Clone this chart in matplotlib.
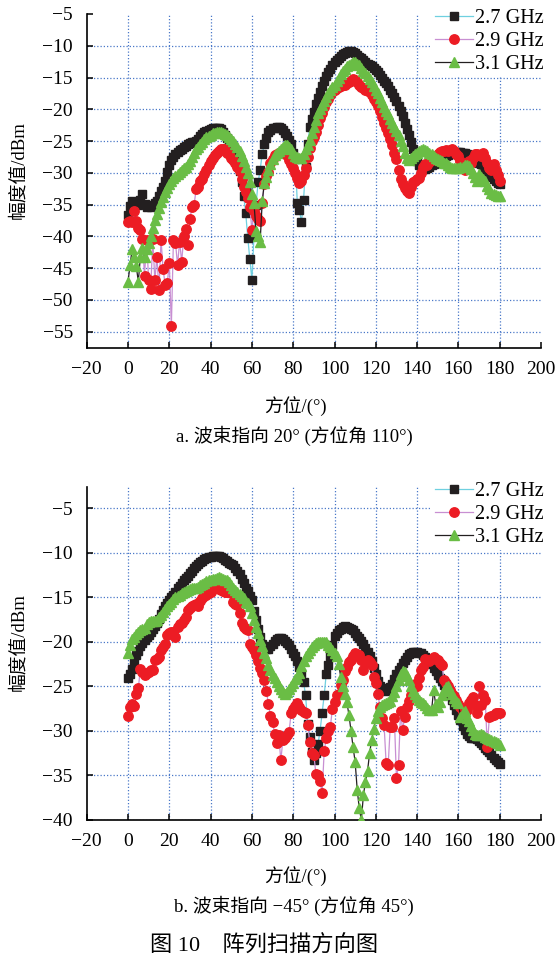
import numpy as np
import matplotlib
matplotlib.use('Agg')
import matplotlib.pyplot as plt

plt.rcParams['font.family'] = ['Liberation Serif', 'Noto Sans CJK SC']
plt.rcParams['axes.unicode_minus'] = True

# ---------------- data ----------------
azimuth = list(range(0, 181))
series_labels = ['2.7 GHz', '2.9 GHz', '3.1 GHz']
x_ticks = list(range(-20, 201, 20))
top_yticks = list(range(-5, -56, -5))
bot_yticks = list(range(-5, -41, -5))

top_27 = [
    -36.6, -35.2, -34.5, -34.9, -34.7, -35.0, -34.2, -33.4, -34.9, -35.3,
    -35.2, -35.4, -35.0, -34.8, -34.4, -33.6, -32.8, -32.2, -31.2, -29.8,
    -28.7, -28.0, -27.5, -27.0, -26.7, -26.4, -26.2, -26.0, -25.8, -25.5,
    -25.3, -25.2, -25.1, -25.0, -24.6, -24.2, -23.9, -23.6, -23.4, -23.2,
    -23.1, -23.0, -22.9, -22.9, -22.9, -23.1, -23.5, -24.0, -24.5, -25.0,
    -25.8, -26.6, -27.6, -28.6, -29.7, -31.5, -33.6, -36.3, -40.2, -43.6,
    -46.8, -40.0, -35.0, -31.5, -29.5, -27.0, -25.5, -24.5, -23.6, -23.2,
    -23.0, -22.9, -22.8, -22.8, -23.0, -23.3, -23.7, -24.2, -24.8, -25.5,
    -26.8, -27.8, -34.8, -35.8, -37.8, -34.3, -29.0, -25.5, -22.8, -21.5,
    -20.4, -19.2, -18.2, -17.2, -16.4, -15.6, -14.8, -14.2, -13.6, -13.0,
    -12.6, -12.2, -11.9, -11.6, -11.3, -11.1, -11.0, -10.9, -10.9, -11.0,
    -11.2, -11.5, -11.8, -12.0, -12.2, -12.5, -12.8, -13.0, -13.2, -13.5,
    -13.8, -14.2, -14.6, -15.0, -15.5, -15.9, -16.4, -16.9, -17.4, -18.0,
    -18.7, -19.4, -20.2, -21.1, -22.1, -23.1, -24.1, -25.1, -26.3, -27.4,
    -28.2, -28.8, -29.2, -29.4, -29.4, -29.2, -29.0, -28.8, -28.6, -28.4,
    -28.3, -28.1, -27.9, -27.6, -27.4, -27.2, -27.0, -26.9, -26.8, -26.7,
    -26.7, -26.7, -26.8, -26.9, -27.1, -27.3, -27.5, -27.8, -28.0, -28.2,
    -28.4, -28.6, -29.0, -29.4, -29.8, -30.2, -30.6, -31.0, -31.3, -31.6,
    -31.8]

top_29 = [
    -37.8, -37.6, -37.8, -36.0, -37.6, -38.6, -39.0, -40.4, -46.3, -40.6,
    -46.8, -48.3, -40.4, -46.9, -43.2, -48.4, -40.5, -45.2, -47.6, -47.4,
    -44.2, -54.1, -40.5, -41.0, -44.5, -40.8, -44.0, -40.0, -38.8, -41.4,
    -37.2, -35.4, -35.0, -32.6, -32.2, -31.3, -31.0, -30.2, -29.5, -28.8,
    -28.2, -27.7, -27.2, -26.8, -26.6, -26.3, -26.2, -26.3, -26.8, -27.1,
    -27.6, -28.0, -28.5, -29.0, -29.7, -31.0, -32.2, -33.0, -34.0, -35.4,
    -39.0, -36.0, -36.8, -37.2, -37.6, -34.8, -31.8, -30.5, -29.8, -28.4,
    -27.8, -27.2, -27.0, -26.8, -26.8, -26.8, -27.0, -27.2, -28.0, -28.6,
    -29.2, -30.0, -30.8, -31.6, -31.2, -30.4, -29.2, -27.5, -26.1, -25.0,
    -24.3, -23.5, -22.4, -21.4, -20.5, -19.6, -18.9, -18.3, -17.7, -17.3,
    -16.9, -16.7, -16.5, -16.3, -16.2, -16.1, -15.9, -15.7, -15.5, -15.3,
    -15.4, -15.7, -16.1, -16.5, -16.7, -16.9, -17.1, -17.3, -17.7, -18.3,
    -18.8, -19.4, -20.3, -21.2, -22.2, -23.0, -23.8, -24.6, -25.6, -26.8,
    -27.8, -29.5, -31.0, -31.8, -32.4, -32.8, -33.2, -32.2, -31.4, -31.2,
    -31.0, -30.8, -30.0, -29.0, -28.6, -28.7, -28.3, -28.0, -27.8, -27.5,
    -27.0, -26.7, -26.6, -26.5, -26.4, -26.5, -26.4, -26.3, -26.6, -27.0,
    -27.4, -28.2, -29.0, -29.5, -28.6, -28.2, -28.4, -27.6, -27.1, -27.0,
    -27.2, -27.4, -26.8, -27.6, -28.4, -29.2, -29.6, -28.6, -29.5, -30.4,
    -31.3]

top_31 = [
    -47.1, -44.5, -42.0, -43.2, -44.7, -47.1, -43.2, -41.8, -43.2, -42.0,
    -41.0, -40.0, -38.7, -37.4, -36.5, -35.6, -34.6, -33.8, -33.0, -32.3,
    -31.7, -31.2, -30.8, -30.5, -30.2, -29.9, -29.6, -29.3, -29.0, -28.6,
    -28.1, -27.5, -26.9, -26.3, -25.9, -25.5, -25.1, -24.7, -24.4, -24.2,
    -24.0, -23.8, -23.7, -23.6, -23.5, -23.6, -23.7, -23.9, -24.1, -24.3,
    -24.6, -25.0, -25.5, -26.0, -26.6, -27.4, -28.2, -29.0, -30.0, -31.5,
    -33.4, -34.7, -39.2, -40.0, -40.8, -34.5, -31.6, -30.6, -29.6, -28.6,
    -27.8, -27.2, -26.8, -26.5, -26.2, -25.9, -25.6, -25.6, -25.9, -26.3,
    -26.8, -27.3, -27.5, -27.7, -27.6, -27.0, -26.3, -25.6, -24.8, -23.8,
    -22.8, -21.6, -20.5, -19.9, -19.3, -18.7, -18.1, -17.5, -17.0, -16.5,
    -16.1, -15.6, -15.0, -14.5, -14.0, -13.6, -13.2, -13.0, -12.8, -12.6,
    -12.6, -12.8, -13.1, -13.5, -13.9, -14.3, -14.7, -15.2, -15.7, -16.3,
    -16.9, -17.5, -18.2, -18.9, -19.6, -20.2, -20.8, -21.5, -22.1, -22.8,
    -23.4, -24.1, -25.0, -25.8, -26.8, -27.6, -27.9, -27.6, -27.3, -27.0,
    -26.8, -26.6, -26.4, -26.3, -26.4, -26.6, -26.8, -27.0, -27.3, -27.6,
    -27.8, -28.0, -28.2, -28.4, -28.5, -28.7, -29.0, -29.2, -29.3, -29.2,
    -29.2, -29.1, -29.0, -28.8, -28.8, -28.9, -29.4, -30.0, -30.6, -31.3,
    -30.2, -30.6, -31.0, -31.3, -32.0, -32.6, -33.1, -33.3, -33.5, -33.6,
    -33.7]

bot_27 = [
    -24.1, -23.6, -23.0, -22.2, -21.5, -21.0, -20.5, -20.1, -19.8, -19.5,
    -19.2, -18.9, -18.6, -18.2, -17.9, -17.4, -16.9, -16.4, -16.0, -15.6,
    -15.3, -15.0, -14.7, -14.4, -14.0, -13.7, -13.4, -13.1, -12.8, -12.6,
    -12.3, -12.0, -11.7, -11.5, -11.2, -11.0, -10.9, -10.7, -10.6, -10.5,
    -10.5, -10.4, -10.4, -10.4, -10.4, -10.5, -10.6, -10.8, -10.9, -11.1,
    -11.2, -11.4, -11.7, -12.0, -12.4, -12.9, -13.4, -13.9, -14.3, -14.8,
    -15.3, -16.5, -17.5, -18.5, -19.5, -20.2, -20.6, -20.8, -20.8, -20.5,
    -20.2, -19.9, -19.7, -19.6, -19.6, -19.7, -19.9, -20.1, -20.4, -20.8,
    -21.2, -21.6, -22.2, -22.8, -23.5, -24.5, -26.0, -29.2, -30.7, -32.4,
    -33.3, -32.5, -31.5, -30.0, -28.0, -26.0, -23.6, -22.6, -21.6, -20.4,
    -19.3, -19.0, -18.7, -18.5, -18.3, -18.2, -18.3, -18.4, -18.5, -18.7,
    -19.0, -19.3, -19.6, -19.9, -20.2, -20.7, -21.1, -21.6, -22.2, -22.9,
    -23.6, -24.4, -24.9, -25.2, -25.4, -25.5, -25.4, -25.1, -24.7, -24.2,
    -23.6, -23.2, -22.8, -22.4, -22.0, -21.7, -21.4, -21.2, -21.1, -21.1,
    -21.1, -21.2, -21.3, -21.5, -21.7, -21.9, -22.2, -22.5, -22.9, -23.3,
    -23.7, -24.0, -24.4, -24.8, -25.2, -25.6, -26.0, -26.5, -27.1, -27.7,
    -28.2, -28.8, -29.4, -29.9, -30.3, -30.6, -30.8, -30.8, -30.8, -30.9,
    -31.1, -31.4, -31.6, -31.9, -32.1, -32.4, -32.7, -33.0, -33.3, -33.5,
    -33.7]

bot_29 = [
    -28.3, -27.3, -27.0, -27.2, -25.8, -25.2, -23.0, -23.4, -23.7, -23.5,
    -23.4, -23.2, -23.2, -22.0, -21.9, -21.7, -20.9, -20.6, -20.2, -19.2,
    -19.0, -18.9, -18.9, -19.4, -18.3, -18.0, -17.9, -17.5, -17.2, -16.4,
    -16.2, -16.0, -15.8, -15.7, -16.0, -15.4, -15.1, -14.9, -14.7, -14.5,
    -14.4, -14.1, -13.8, -13.9, -14.1, -14.2, -14.3, -14.4, -14.4, -14.4,
    -14.5, -15.5, -15.7, -15.9, -16.8, -17.9, -18.3, -18.5, -18.7, -20.2,
    -20.6, -20.9, -21.5, -22.2, -22.9, -23.5, -24.3, -25.5, -27.0, -28.3,
    -29.0, -30.3, -31.4, -30.5, -33.3, -31.0, -30.8, -30.5, -30.1, -28.0,
    -27.5, -27.2, -26.9, -27.3, -27.7, -27.9, -28.0, -29.3, -31.2, -32.5,
    -32.7, -34.8, -35.0, -35.6, -37.0, -32.3, -30.8, -30.0, -29.5, -27.5,
    -26.7, -26.0, -25.8, -24.8, -24.3, -23.3, -22.8, -22.3, -22.0, -21.6,
    -21.3, -21.4, -21.5, -22.0, -23.2, -22.4, -22.0, -22.3, -22.6, -23.9,
    -24.6, -25.8, -27.3, -28.5, -29.3, -33.6, -33.8, -29.5, -29.5, -28.6,
    -35.3, -33.8, -27.8, -29.9, -28.4, -27.3, -26.6, -26.0, -25.3, -24.7,
    -25.0, -24.0, -23.2, -22.8, -21.9, -22.0, -22.2, -21.9, -21.7, -21.9,
    -22.0, -22.4, -22.6, -24.3, -24.6, -24.9, -25.4, -25.8, -26.1, -26.5,
    -27.0, -27.3, -27.8, -27.8, -27.7, -26.9, -26.5, -26.2, -27.1, -28.0,
    -24.9, -27.1, -26.0, -26.5, -31.8, -28.4, -28.3, -28.2, -28.0, -28.0,
    -28.0]

bot_31 = [
    -21.3, -20.4, -19.7, -19.4, -19.1, -18.9, -18.7, -18.6, -18.4, -18.0,
    -17.8, -17.7, -17.7, -17.6, -17.5, -17.2, -17.0, -16.6, -16.3, -16.0,
    -15.7, -15.5, -15.2, -15.0, -14.8, -14.7, -14.5, -14.4, -14.3, -14.2,
    -14.1, -14.0, -14.0, -13.9, -13.8, -13.6, -13.5, -13.4, -13.2, -13.1,
    -13.0, -12.9, -12.9, -12.8, -12.7, -12.8, -12.9, -13.0, -13.1, -13.3,
    -13.6, -13.9, -14.2, -14.4, -14.6, -14.8, -15.1, -15.5, -15.6, -16.0,
    -16.8, -17.5, -18.3, -19.0, -19.8, -20.5, -21.3, -21.8, -22.6, -23.2,
    -23.7, -24.1, -24.5, -24.9, -25.3, -25.6, -25.9, -25.6, -25.3, -25.0,
    -24.6, -24.2, -23.9, -23.5, -22.7, -22.2, -21.6, -21.2, -20.9, -20.6,
    -20.3, -20.1, -20.0, -20.0, -20.0, -20.0, -20.0, -20.3, -20.6, -20.9,
    -21.2, -21.6, -22.5, -23.9, -25.0, -25.8, -26.8, -28.2, -30.0, -31.8,
    -33.5, -36.6, -38.7, -40.0, -37.2, -35.7, -34.5, -32.5, -31.0, -29.8,
    -28.6, -27.8, -27.3, -27.1, -27.0, -26.9, -26.8, -26.6, -26.1, -25.6,
    -25.0, -24.3, -23.6, -23.3, -23.4, -23.8, -24.3, -24.9, -25.5, -25.9,
    -26.2, -26.5, -26.7, -26.9, -27.1, -27.4, -27.6, -27.7, -25.4, -27.0,
    -27.3, -26.8, -26.0, -25.4, -25.1, -25.0, -25.5, -25.9, -26.3, -26.6,
    -26.9, -28.4, -28.0, -27.8, -28.6, -28.9, -29.4, -29.9, -30.3, -30.5,
    -30.4, -30.3, -30.5, -30.7, -30.8, -30.9, -31.0, -31.1, -31.2, -31.4,
    -31.6]

# ---------------- layout ----------------
W, H = 557, 963
fig = plt.figure(figsize=(W / 100, H / 100), dpi=100)

GRID_C = '#4a78c8'
styles = [
    dict(color='#6fd0e0', marker='s', ms=5.8, mfc='#231f20', mec='#231f20'),
    dict(color='#c88fd2', marker='o', ms=6.8, mfc='#ec1c24', mec='#ec1c24'),
    dict(color='#231f20', marker='^', ms=7.4, mfc='#6abd45', mec='#6abd45'),
]


def panel(top_px, bot_px, ylim, yticks, data):
    ax = fig.add_axes([86.7 / W, 1 - bot_px / H, (541 - 86.7) / W, (bot_px - top_px) / H])
    ax.set_xlim(-20, 200)
    ax.set_ylim(*ylim)
    for gx in range(0, 181, 20):
        ax.axvline(gx, color=GRID_C, lw=0.9, ls=(0, (1, 1.6)), zorder=0)
    for gy in yticks:
        if gy < ylim[1] - 0.05:
            ax.axhline(gy, color=GRID_C, lw=0.9, ls=(0, (1, 1.6)), zorder=0)
    for ys, lab, st in zip(data, series_labels, styles):
        ax.plot(azimuth, ys, lw=0.9, label=lab, zorder=3, **st)
    ax.set_xticks(x_ticks)
    ax.set_yticks(yticks)
    for s in ('top', 'right'):
        ax.spines[s].set_visible(False)
    for s in ('left', 'bottom'):
        ax.spines[s].set_linewidth(1.2)
    ax.tick_params(axis='both', direction='in', length=4, width=1.1, labelsize=14)
    ax.tick_params(axis='y', pad=10)
    ax.tick_params(axis='x', pad=9)
    leg = ax.legend(loc='upper right', bbox_to_anchor=(547 / W, 1 - (top_px - 8) / H),
                    bbox_transform=fig.transFigure, fontsize=14.6, frameon=True,
                    facecolor='white', edgecolor='none', framealpha=1, fancybox=False,
                    borderpad=0.15, labelspacing=0.18, handlelength=1.9,
                    handletextpad=0.1, borderaxespad=0, numpoints=1)
    leg.set_zorder(5)
    return ax


panel(14, 348.3, (-57.6, -5), top_yticks, [top_27, top_29, top_31])
panel(486.7, 820, (-40, -2.57), bot_yticks, [bot_27, bot_29, bot_31])

fig.text(18 / W, 1 - 170 / H, '幅度值/dBm', rotation=90, ha='center', va='center', fontsize=13.5)
fig.text(18 / W, 1 - 642 / H, '幅度值/dBm', rotation=90, ha='center', va='center', fontsize=13.5)
fig.text(295 / W, 1 - 406 / H, '方位/(°)', ha='center', va='center', fontsize=13.5)
fig.text(294 / W, 1 - 436 / H, 'a. 波束指向 20° (方位角 110°)', ha='center', va='center', fontsize=13.5)
fig.text(295 / W, 1 - 876 / H, '方位/(°)', ha='center', va='center', fontsize=13.5)
fig.text(294 / W, 1 - 906 / H, 'b. 波束指向 \u221245° (方位角 45°)', ha='center', va='center', fontsize=13.5)
fig.text(264 / W, 1 - 946 / H, '图 10\u3000阵列扫描方向图', ha='center', va='center', fontsize=16)

fig.savefig('out.png', dpi=100)
